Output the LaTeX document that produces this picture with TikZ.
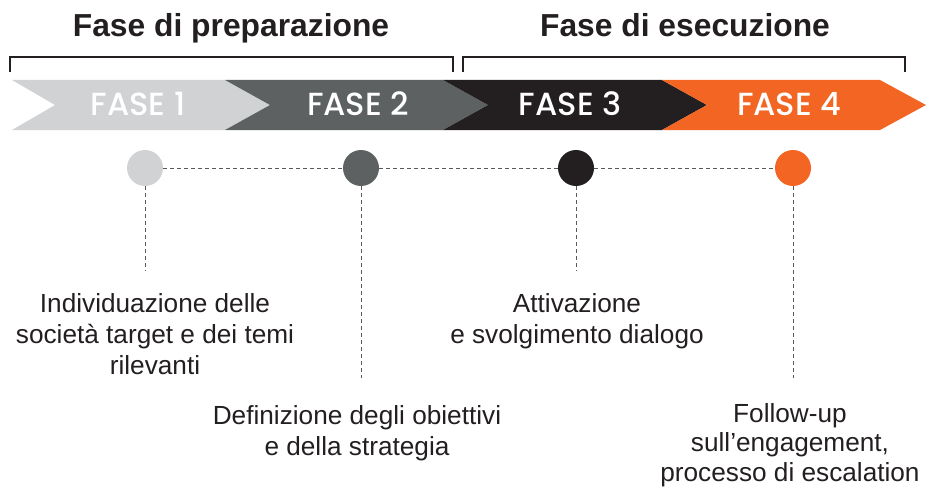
\documentclass[tikz,border=0pt]{standalone}
\usepackage{fontspec}
\setmainfont{Liberation Sans}
\newfontfamily\popfont{Poppins Medium}
\definecolor{cone}{HTML}{D1D2D4}
\definecolor{ctwo}{HTML}{5D6162}
\definecolor{cthree}{HTML}{231F20}
\definecolor{cfour}{HTML}{F26522}
\definecolor{dashgray}{HTML}{58595B}
\tikzset{
  title/.style={font=\bfseries\fontsize{31.8}{36}\selectfont, text=cthree, anchor=base, inner sep=0},
  phase/.style={font=\popfont\fontsize{32}{36}\selectfont, text=white, inner sep=0},
  dot/.style={circle, minimum size=36pt, inner sep=0},
  desc/.style={font=\fontsize{26.2}{31}\selectfont, text=cthree, align=center, anchor=north, inner sep=0},
  bracketline/.style={draw=cthree, line width=2pt},
  dashline/.style={draw=dashgray, line width=1pt, dash pattern=on 4pt off 3pt}
}
\begin{document}
\begin{tikzpicture}[x=1pt,y=-1pt]
\useasboundingbox (0,0) rectangle (927,487);
% titles
\node[title] (tp) at (231,37) {Fase di preparazione};
\node[title] (te) at (685,37) {Fase di esecuzione};
% brackets
\draw[bracketline] (10,72) -- (10,57) -- (453,57) -- (453,72);
\draw[bracketline] (463,72) -- (463,57) -- (905,57) -- (905,72);
% chevrons
\fill[cone] (12,80) -- (225,80) -- (270,105) -- (225,130) -- (12,130) -- (55,105) -- cycle;
\fill[ctwo] (225,80) -- (443,80) -- (488,105) -- (443,130) -- (225,130) -- (270,105) -- cycle;
\fill[cthree] (443,80) -- (662,80) -- (707,105) -- (662,130) -- (443,130) -- (488,105) -- cycle;
\fill[cfour] (662,80) -- (880,80) -- (926,105) -- (880,130) -- (662,130) -- (707,105) -- cycle;
\node[phase] (f1) at (138,104) {FASE 1};
\node[phase] (f2) at (358,104) {FASE 2};
\node[phase] (f3) at (570,104) {FASE 3};
\node[phase] (f4) at (789,104) {FASE 4};
% dots
\node[dot, fill=cone] (c1) at (145,168) {};
\node[dot, fill=ctwo] (c2) at (361,168) {};
\node[dot, fill=cthree] (c3) at (576,168) {};
\node[dot, fill=cfour] (c4) at (793,168) {};
\draw[dashline] (c1.east) -- (c2.west);
\draw[dashline] (c2.east) -- (c3.west);
\draw[dashline] (c3.east) -- (c4.west);
\coordinate (e1) at (145,271);
\coordinate (e2) at (361,378);
\coordinate (e3) at (576,271);
\coordinate (e4) at (793,378);
\draw[dashline] (c1.south) -- (e1);
\draw[dashline] (c2.south) -- (e2);
\draw[dashline] (c3.south) -- (e3);
\draw[dashline] (c4.south) -- (e4);
% descriptions
\node[desc] (t1) at (155,293.5) {Individuazione delle\\società target e dei temi\\rilevanti};
\node[desc] (t2) at (357,405.5) {Definizione degli obiettivi\\e della strategia};
\node[desc] (t3) at (577,293.5) {Attivazione\\e svolgimento dialogo};
\node[desc, font=\fontsize{26.2}{29.5}\selectfont] (t4) at (790,403) {Follow-up\\sull’engagement,\\processo di escalation};
\end{tikzpicture}
\end{document}
